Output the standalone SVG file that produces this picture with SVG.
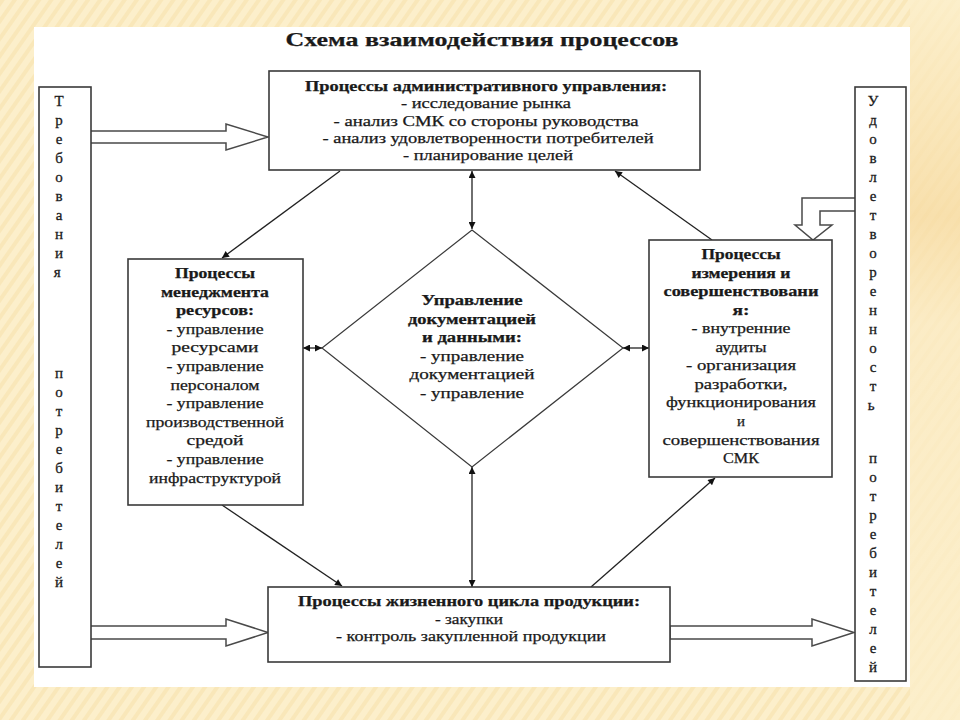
<svg xmlns="http://www.w3.org/2000/svg" width="960" height="720" viewBox="0 0 960 720">
<style>
.box{fill:#fff;stroke:#3a3a3a;stroke-width:1.6}
.t{font-family:"Liberation Serif","DejaVu Serif",serif;font-size:14px;fill:#1a1a1a;text-anchor:middle;stroke:#1a1a1a;stroke-width:0.25}
.b{font-weight:bold}
.v{font-family:"Liberation Serif","DejaVu Serif",serif;font-size:15px;fill:#1a1a1a;text-anchor:middle;stroke:#1a1a1a;stroke-width:0.3}
.blk{fill:#fff;stroke:#4a4a4a;stroke-width:1.5}
.ln{stroke:#222;stroke-width:1.3;fill:none}
</style>
<defs>
<pattern id="stripes" patternUnits="userSpaceOnUse" width="10" height="10" patternTransform="rotate(35)">
<rect width="10" height="10" fill="#fcefcb"/>
<rect width="4" height="10" fill="#f6e1ad" opacity="0.6"/>
</pattern>
<linearGradient id="rg" x1="0" y1="0" x2="0" y2="1">
<stop offset="0" stop-color="#fcefcb"/>
<stop offset="0.3" stop-color="#f7dca5"/>
<stop offset="0.45" stop-color="#fbebc4"/>
<stop offset="1" stop-color="#fcefcb"/>
</linearGradient>
<marker id="ah" viewBox="0 0 10 10" refX="10" refY="5" markerWidth="9" markerHeight="7" markerUnits="userSpaceOnUse" orient="auto-start-reverse">
<path d="M0,0 L10,5 L0,10 Z" fill="#111"/>
</marker>
</defs>
<rect x="0" y="0" width="960" height="720" fill="url(#stripes)"/>
<rect x="910" y="0" width="50" height="720" fill="url(#rg)" opacity="0.8"/>
<rect x="34" y="27" width="876" height="660" fill="#fff"/>

<text class="t b" x="482" y="46" style="font-size:19px" textLength="393" lengthAdjust="spacingAndGlyphs">Схема взаимодействия процессов</text>

<g id="connectors">
<path class="blk" d="M89,131 H226 V124 L268,137 L226,150 V143 H89 Z"/>
<path class="blk" d="M89,626 H226 V619 L268,632.5 L226,646 V639 H89 Z"/>
<path class="blk" d="M670,626 H812 V619 L854,632.5 L812,646 V639 H670 Z"/>
<path class="blk" d="M856,198 H802 V225 H795 L813,240 L832,225 H820 V211 H856 Z"/>
<line class="ln" x1="340" y1="171" x2="222" y2="258" marker-end="url(#ah)"/>
<line class="ln" x1="472" y1="171" x2="472" y2="229" marker-start="url(#ah)" marker-end="url(#ah)"/>
<line class="ln" x1="712" y1="240" x2="615" y2="171" marker-end="url(#ah)"/>
<line class="ln" x1="222" y1="505" x2="342" y2="586" marker-end="url(#ah)"/>
<line class="ln" x1="472" y1="467" x2="472" y2="587" marker-start="url(#ah)" marker-end="url(#ah)"/>
<line class="ln" x1="591" y1="587" x2="715" y2="478" marker-end="url(#ah)"/>
<line class="ln" x1="303" y1="348" x2="322" y2="348" marker-start="url(#ah)" marker-end="url(#ah)"/>
<line class="ln" x1="623" y1="348" x2="649" y2="348" marker-start="url(#ah)" marker-end="url(#ah)"/>
</g>

<g id="req">
<rect class="box" x="39" y="87" width="52" height="580"/>
<text class="v">
<tspan x="59" y="106">Т</tspan><tspan x="59" y="125">р</tspan><tspan x="59" y="144">е</tspan><tspan x="59" y="163">б</tspan><tspan x="59" y="182">о</tspan><tspan x="59" y="201">в</tspan><tspan x="59" y="220">а</tspan><tspan x="59" y="239">н</tspan><tspan x="59" y="258">и</tspan><tspan x="59" y="277">я</tspan>
<tspan x="59" y="378">п</tspan><tspan x="59" y="397">о</tspan><tspan x="59" y="416">т</tspan><tspan x="59" y="435">р</tspan><tspan x="59" y="454">е</tspan><tspan x="59" y="473">б</tspan><tspan x="59" y="492">и</tspan><tspan x="59" y="511">т</tspan><tspan x="59" y="530">е</tspan><tspan x="59" y="549">л</tspan><tspan x="59" y="568">е</tspan><tspan x="59" y="587">й</tspan>
</text>
</g>

<g id="sat">
<rect class="box" x="855" y="87" width="51" height="594"/>
<text class="v">
<tspan x="873" y="106">У</tspan><tspan x="873" y="125">д</tspan><tspan x="873" y="144">о</tspan><tspan x="873" y="163">в</tspan><tspan x="873" y="182">л</tspan><tspan x="873" y="201">е</tspan><tspan x="873" y="220">т</tspan><tspan x="873" y="239">в</tspan><tspan x="873" y="258">о</tspan><tspan x="873" y="277">р</tspan><tspan x="873" y="296">е</tspan><tspan x="873" y="315">н</tspan><tspan x="873" y="334">н</tspan><tspan x="873" y="353">о</tspan><tspan x="873" y="372">с</tspan><tspan x="873" y="391">т</tspan><tspan x="873" y="410">ь</tspan>
<tspan x="873" y="463">п</tspan><tspan x="873" y="482">о</tspan><tspan x="873" y="501">т</tspan><tspan x="873" y="520">р</tspan><tspan x="873" y="539">е</tspan><tspan x="873" y="558">б</tspan><tspan x="873" y="577">и</tspan><tspan x="873" y="596">т</tspan><tspan x="873" y="615">е</tspan><tspan x="873" y="634">л</tspan><tspan x="873" y="653">е</tspan><tspan x="873" y="672">й</tspan>
</text>
</g>

<g id="admin">
<rect class="box" x="269" y="71" width="431" height="99"/>
<text class="t b" x="486" y="91" textLength="362" lengthAdjust="spacingAndGlyphs">Процессы административного управления:</text>
<text class="t" x="486" y="108" textLength="170" lengthAdjust="spacingAndGlyphs">- исследование рынка</text>
<text class="t" x="486" y="126" textLength="305" lengthAdjust="spacingAndGlyphs">- анализ СМК со стороны руководства</text>
<text class="t" x="488" y="143" textLength="331" lengthAdjust="spacingAndGlyphs">- анализ удовлетворенности потребителей</text>
<text class="t" x="488" y="160" textLength="170" lengthAdjust="spacingAndGlyphs">- планирование целей</text>
</g>

<g id="resources">
<rect class="box" x="128" y="259" width="175" height="246"/>
<text class="t b" x="215" y="278" textLength="80" lengthAdjust="spacingAndGlyphs">Процессы</text>
<text class="t b" x="215" y="296.6" textLength="108" lengthAdjust="spacingAndGlyphs">менеджмента</text>
<text class="t b" x="215" y="315.2" textLength="78" lengthAdjust="spacingAndGlyphs">ресурсов:</text>
<text class="t" x="215" y="333.8" textLength="97" lengthAdjust="spacingAndGlyphs">- управление</text>
<text class="t" x="215" y="352.4" textLength="87" lengthAdjust="spacingAndGlyphs">ресурсами</text>
<text class="t" x="215" y="371" textLength="97" lengthAdjust="spacingAndGlyphs">- управление</text>
<text class="t" x="215" y="389.6" textLength="89" lengthAdjust="spacingAndGlyphs">персоналом</text>
<text class="t" x="215" y="408.2" textLength="97" lengthAdjust="spacingAndGlyphs">- управление</text>
<text class="t" x="215" y="426.8" textLength="138" lengthAdjust="spacingAndGlyphs">производственной</text>
<text class="t" x="215" y="445.4" textLength="57" lengthAdjust="spacingAndGlyphs">средой</text>
<text class="t" x="215" y="464" textLength="97" lengthAdjust="spacingAndGlyphs">- управление</text>
<text class="t" x="215" y="482.6" textLength="132" lengthAdjust="spacingAndGlyphs">инфраструктурой</text>
</g>

<g id="documents">
<path class="box" d="M472,230 L623,348 L472,467 L322,348 Z" style="stroke-width:1.2"/>
<text class="t b" x="472" y="305" textLength="101" lengthAdjust="spacingAndGlyphs">Управление</text>
<text class="t b" x="472" y="323.6" textLength="128" lengthAdjust="spacingAndGlyphs">документацией</text>
<text class="t b" x="472" y="342.1" textLength="100" lengthAdjust="spacingAndGlyphs">и данными:</text>
<text class="t" x="472" y="360.7" textLength="104" lengthAdjust="spacingAndGlyphs">- управление</text>
<text class="t" x="472" y="379.2" textLength="125" lengthAdjust="spacingAndGlyphs">документацией</text>
<text class="t" x="472" y="397.8" textLength="104" lengthAdjust="spacingAndGlyphs">- управление</text>
</g>

<g id="measurement">
<rect class="box" x="649" y="240" width="183" height="237"/>
<text class="t b" x="741" y="259" textLength="79" lengthAdjust="spacingAndGlyphs">Процессы</text>
<text class="t b" x="741" y="277.6" textLength="99" lengthAdjust="spacingAndGlyphs">измерения и</text>
<text class="t b" x="741" y="296.1" textLength="155" lengthAdjust="spacingAndGlyphs">совершенствовани</text>
<text class="t b" x="741" y="314.7" textLength="17" lengthAdjust="spacingAndGlyphs">я:</text>
<text class="t" x="741" y="333.2" textLength="99" lengthAdjust="spacingAndGlyphs">- внутренние</text>
<text class="t" x="741" y="351.8" textLength="51" lengthAdjust="spacingAndGlyphs">аудиты</text>
<text class="t" x="741" y="370.3" textLength="110" lengthAdjust="spacingAndGlyphs">- организация</text>
<text class="t" x="741" y="388.9" textLength="93" lengthAdjust="spacingAndGlyphs">разработки,</text>
<text class="t" x="741" y="407.4" textLength="150" lengthAdjust="spacingAndGlyphs">функционирования</text>
<text class="t" x="741" y="426" textLength="8" lengthAdjust="spacingAndGlyphs">и</text>
<text class="t" x="741" y="444.5" textLength="157" lengthAdjust="spacingAndGlyphs">совершенствования</text>
<text class="t" x="741" y="463" textLength="36" lengthAdjust="spacingAndGlyphs">СМК</text>
</g>

<g id="lifecycle">
<rect class="box" x="268" y="587" width="402" height="75"/>
<text class="t b" x="469" y="606" textLength="342" lengthAdjust="spacingAndGlyphs">Процессы жизненного цикла продукции:</text>
<text class="t" x="469" y="624" textLength="68" lengthAdjust="spacingAndGlyphs">- закупки</text>
<text class="t" x="471" y="641" textLength="270" lengthAdjust="spacingAndGlyphs">- контроль закупленной продукции</text>
</g>
</svg>
